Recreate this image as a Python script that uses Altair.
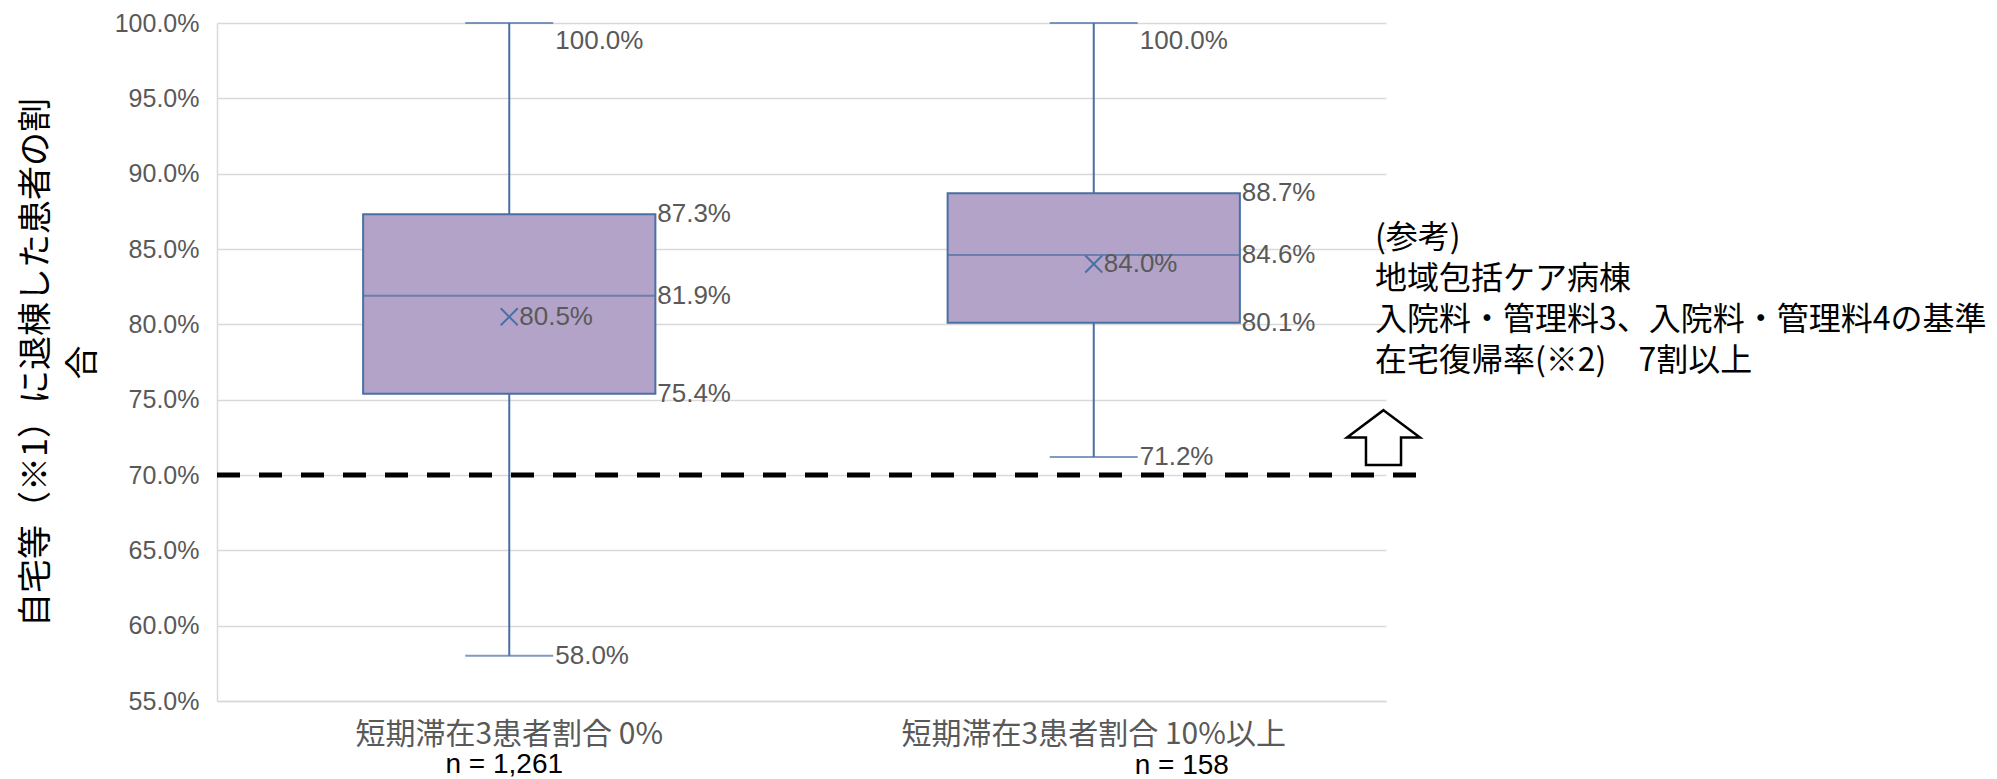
import altair as alt
import pandas as pd

# ---------------- data ----------------
categories = ["短期滞在3患者割合 0%", "短期滞在3患者割合 10%以上"]
n_labels = ["n = 1,261", "n = 158"]
min_vals = [0.580, 0.712]
q1_vals = [0.754, 0.801]
median_vals = [0.819, 0.846]
q3_vals = [0.873, 0.887]
max_vals = [1.000, 1.000]
mean_vals = [0.805, 0.840]
y_ticks = [0.55, 0.60, 0.65, 0.70, 0.75, 0.80, 0.85, 0.90, 0.95, 1.00]
y_title = ["自宅等（※1）に退棟した患者の割", "合"]
threshold = [0.70]
note_lines = ["(参考)", "地域包括ケア病棟", "入院料・管理料3、入院料・管理料4の基準", "在宅復帰率(※2)\u30007割以上"]

# ---------------- styles ----------------
W, H = 1169, 678
BLUE = "#4A6FA5"
PURPLE = "#B3A3C9"
GRAY = "#595959"
GRID = "#D9D9D9"
CJK = "Noto Sans CJK JP"
LAT = "Liberation Sans"
X_SHAPE = "M-1,-1L1,1M1,-1L-1,1"
ARROW = "M0,-0.75L1,0L0.48,0L0.48,0.75L-0.48,0.75L-0.48,0L-1,0Z"

stats = pd.DataFrame({
    "cat": categories, "n": n_labels, "min": min_vals, "q1": q1_vals,
    "median": median_vals, "q3": q3_vals, "max": max_vals, "mean": mean_vals,
})

x_enc = alt.X(
    "cat:N", sort=categories,
    scale=alt.Scale(paddingInner=0, paddingOuter=0),
    axis=alt.Axis(title=None, labelAngle=0, labelFont=CJK, labelFontSize=30,
                  labelColor=GRAY, labelPadding=33, labelBaseline="middle",
                  ticks=False, tickSize=0, domainColor=GRID, domainWidth=1.5,
                  grid=False, labelLimit=600),
)
y_scale = alt.Scale(domain=[0.55, 1.0], nice=False, zero=False)
y_axis = alt.Axis(values=y_ticks, format=".1%", title=y_title, titleFont=CJK,
                  titleFontSize=34, titleFontWeight="normal", titleColor="black",
                  titleLineHeight=47, titleAngle=-90, titleAlign="center",
                  titleBaseline="top", titleX=-198, titleY=H / 2,
                  labelFont=LAT, labelFontSize=25, labelColor=GRAY,
                  labelPadding=18, ticks=False, tickSize=0, grid=True,
                  gridColor=GRID, gridWidth=1.5, domainColor=GRID, domainWidth=1.5)


def Y(field):
    return alt.Y(f"{field}:Q", scale=y_scale, axis=y_axis)


base = alt.Chart(stats)

whisker = base.mark_rule(color=BLUE, strokeWidth=2).encode(
    x=x_enc, y=Y("min"), y2="max:Q")

caps = base.transform_fold(["min", "max"], as_=["stat", "val"]).mark_tick(
    color=BLUE, thickness=2, size=88, orient="horizontal").encode(
    x=x_enc, y=Y("val"))

box = base.mark_bar(width={"band": 0.5}, fill=PURPLE, stroke=BLUE,
                    strokeWidth=2).encode(x=x_enc, y=Y("q1"), y2="q3:Q")

median = base.mark_tick(color=BLUE, thickness=2, size=292,
                        orient="horizontal").encode(x=x_enc, y=Y("median"))

mean_pt = base.mark_point(shape=X_SHAPE, size=289, filled=False, stroke=BLUE,
                          strokeWidth=2, opacity=1).encode(x=x_enc, y=Y("mean"))

mean_lbl = base.mark_text(align="left", baseline="middle", dx=10, font=LAT,
                          fontSize=26, color=GRAY).encode(
    x=x_enc, y=Y("mean"), text=alt.Text("mean:Q", format=".1%"))

box_lbl = base.transform_fold(["q1", "median", "q3"], as_=["stat", "val"]).mark_text(
    align="left", baseline="middle", dx=148, font=LAT, fontSize=26, color=GRAY).encode(
    x=x_enc, y=Y("val"), text=alt.Text("val:Q", format=".1%"))

min_lbl = base.mark_text(align="left", baseline="middle", dx=46, font=LAT,
                         fontSize=26, color=GRAY).encode(
    x=x_enc, y=Y("min"), text=alt.Text("min:Q", format=".1%"))

max_lbl = base.mark_text(align="left", baseline="top", dx=46, dy=5, font=LAT,
                         fontSize=26, color=GRAY).encode(
    x=x_enc, y=Y("max"), text=alt.Text("max:Q", format=".1%"))

thr = alt.Chart(pd.DataFrame({"t": threshold})).mark_rule(
    color="black", strokeWidth=5, strokeDash=[23, 19]).encode(
    y=Y("t"), x=alt.value(0), x2=alt.value(W + 30))

n1 = base.transform_filter(alt.datum.cat == categories[0]).mark_text(
    align="center", baseline="middle", dx=-5, font=LAT, fontSize=28,
    color="black").encode(x=x_enc, y=alt.value(H + 64), text="n:N")
n2 = base.transform_filter(alt.datum.cat == categories[1]).mark_text(
    align="center", baseline="middle", dx=88, font=LAT, fontSize=28,
    color="black").encode(x=x_enc, y=alt.value(H + 65), text="n:N")

arrow = alt.Chart(pd.DataFrame({"a": [1]})).mark_point(
    shape=ARROW, size=5329, filled=False, fill="white", fillOpacity=1,
    stroke="black", strokeWidth=2.5, opacity=1).encode(
    x=alt.value(W - 2.5), y=alt.value(414.5))

note = alt.Chart(pd.DataFrame({"a": [1]})).mark_text(
    align="left", baseline="top", font=CJK, fontSize=32, lineHeight=41,
    color="black", text=note_lines).encode(
    x=alt.value(W - 11), y=alt.value(200))

chart = alt.layer(
    whisker, caps, box, median, mean_pt, mean_lbl, box_lbl, min_lbl, max_lbl,
    thr, n1, n2, arrow, note,
).properties(
    width=W, height=H,
    padding={"left": 209, "top": 15, "right": 603, "bottom": 80},
    autosize=alt.AutoSizeParams(type="none"),
).configure_view(stroke=None)

chart.save("out.html", embed_options={"renderer": "svg", "actions": False})
